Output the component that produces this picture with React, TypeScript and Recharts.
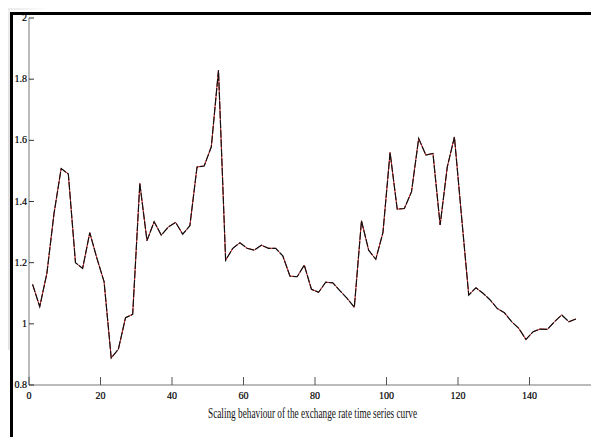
import { LineChart, Line, XAxis, YAxis } from "recharts";

// sample positions (every second step)
const steps = [
  1, 3, 5, 7, 9, 11, 13, 15, 17, 19, 21, 23, 25, 27, 29, 31, 33, 35, 37, 39,
  41, 43, 45, 47, 49, 51, 53, 55, 57, 59, 61, 63, 65, 67, 69, 71, 73, 75, 77,
  79, 81, 83, 85, 87, 89, 91, 93, 95, 97, 99, 101, 103, 105, 107, 109, 111,
  113, 115, 117, 119, 121, 123, 125, 127, 129, 131, 133, 135, 137, 139, 141,
  143, 145, 147, 149, 151, 153,
];

// scaling exponent of the exchange rate series
const rates = [
  1.129, 1.056, 1.165, 1.361, 1.508, 1.49, 1.2, 1.181, 1.298, 1.214, 1.138,
  0.888, 0.917, 1.02, 1.031, 1.459, 1.272, 1.334, 1.29, 1.317, 1.332, 1.293,
  1.321, 1.513, 1.516, 1.579, 1.829, 1.208, 1.247, 1.265, 1.247, 1.241, 1.257,
  1.247, 1.247, 1.222, 1.156, 1.154, 1.192, 1.113, 1.103, 1.136, 1.134, 1.108,
  1.083, 1.054, 1.337, 1.241, 1.211, 1.298, 1.56, 1.375, 1.377, 1.432, 1.606,
  1.552, 1.557, 1.323, 1.513, 1.611, 1.35, 1.094, 1.118, 1.1, 1.078, 1.05,
  1.036, 1.007, 0.985, 0.949, 0.974, 0.983, 0.982, 1.007, 1.029, 1.007, 1.016,
];

const xTicks = [0, 20, 40, 60, 80, 100, 120, 140, 160];
const yTicks = [0.8, 1, 1.2, 1.4, 1.6, 1.8, 2];

const title = "Scaling behaviour of the exchange rate time series curve";

const chartData = steps.map((s, i) => ({ step: s, rate: rates[i] }));

const tickFont = {
  fontFamily: "'Liberation Serif', serif",
  fontSize: 10,
  fill: "#000",
  stroke: "#000",
  strokeWidth: 0.2,
};

function YTick(props: any) {
  const { x, y, payload } = props;
  return (
    <g>
      <line x1={x} x2={x + 5} y1={y} y2={y} stroke="#333" />
      <text x={x - 2} y={y + 3} textAnchor="end" {...tickFont}>
        {payload.value}
      </text>
    </g>
  );
}

function XTick(props: any) {
  const { x, y, payload } = props;
  return (
    <g>
      <line x1={x} x2={x} y1={y} y2={y - 8} stroke="#555" />
      <text x={x} y={y + 14} textAnchor="middle" {...tickFont}>
        {payload.value}
      </text>
    </g>
  );
}

function Title() {
  return (
    <text
      x={208}
      y={418}
      textLength={209}
      lengthAdjust="spacingAndGlyphs"
      fontFamily="'Liberation Serif', serif"
      fontSize={14}
      fill="#111"
    >
      {title}
    </text>
  );
}

export default function App() {
  return (
    <div
      style={{
        position: "relative",
        width: 599,
        height: 445,
        margin: -8,
        overflow: "hidden",
        background: "#fff",
      }}
    >
      {/* faded page edge */}
      <div
        style={{
          position: "absolute",
          left: 0,
          top: 0,
          width: 10,
          height: 350,
          background: "linear-gradient(#eee, #ddd 40%, #e4e4e4)",
        }}
      />
      <div
        style={{
          position: "absolute",
          left: 0,
          top: 0,
          width: 50,
          height: 10,
          background: "linear-gradient(90deg, #e6e6e6, #fff)",
        }}
      />
      <div style={{ position: "absolute", left: 0, top: 0 }}>
        <LineChart
          width={620}
          height={445}
          data={chartData}
          margin={{ top: 18, right: 19, bottom: 0, left: 0 }}
        >
          <XAxis
            dataKey="step"
            type="number"
            domain={[0, 160]}
            ticks={xTicks}
            height={60}
            stroke="#777"
            tickSize={0}
            tickMargin={0}
            tick={<XTick />}
            tickLine={false}
            label={{ content: <Title /> }}
          />
          <YAxis
            type="number"
            domain={[0.8, 2]}
            ticks={yTicks}
            width={29}
            stroke="#777"
            tickSize={0}
            tickMargin={0}
            tick={<YTick />}
            tickLine={false}
          />
          <Line
            type="linear"
            dataKey="rate"
            stroke="#e01818"
            strokeWidth={1}
            dot={false}
            isAnimationActive={false}
          />
          <Line
            type="linear"
            dataKey="rate"
            stroke="#111"
            strokeWidth={1.2}
            strokeDasharray="8 1.5"
            dot={false}
            isAnimationActive={false}
          />
        </LineChart>
      </div>
      {/* frame */}
      <div
        style={{
          position: "absolute",
          left: 10,
          top: 12,
          width: 589,
          height: 3,
          background: "#000",
        }}
      />
      <div
        style={{
          position: "absolute",
          left: 10,
          top: 12,
          width: 3,
          height: 433,
          background: "#000",
        }}
      />
    </div>
  );
}
